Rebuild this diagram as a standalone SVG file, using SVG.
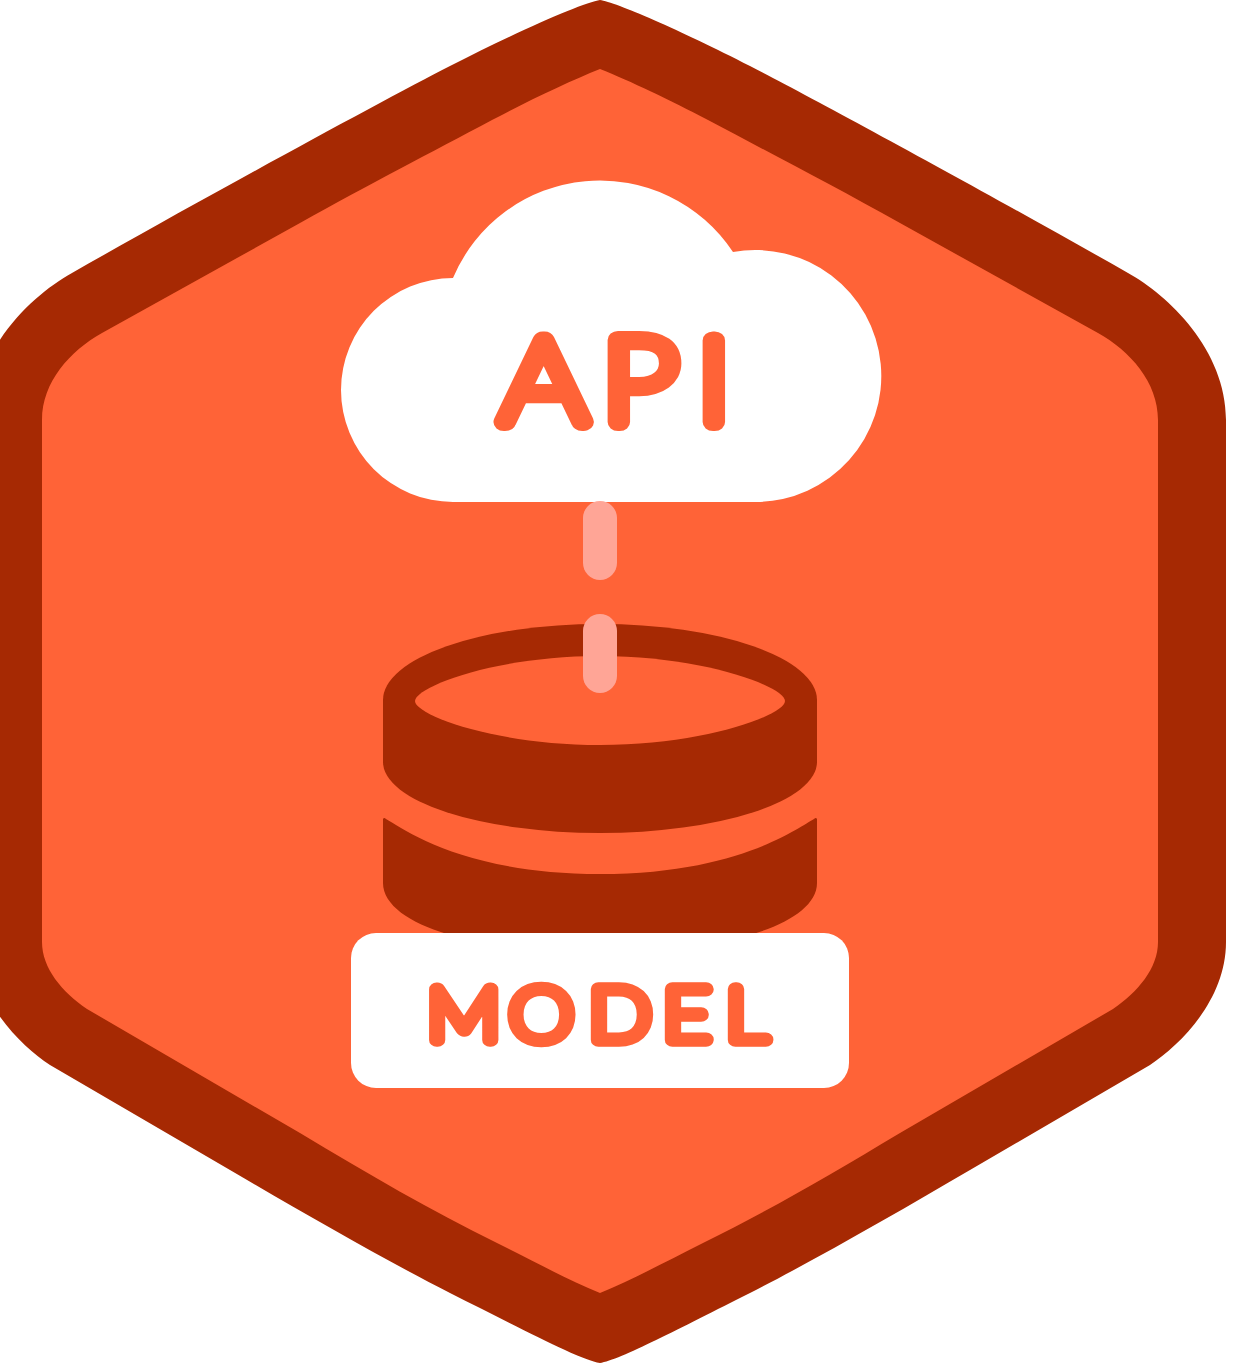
<svg xmlns="http://www.w3.org/2000/svg" width="1250" height="1363" viewBox="0 0 1250 1363">
<style>
.dark{fill:#a62903}
.orange{fill:#ff6337}
.white{fill:#fff}
.dash{fill:#ffa596}
text{font-family:"Lato","Inter","Liberation Sans",sans-serif;font-weight:100;fill:#ff6337;stroke:#ff6337;stroke-linejoin:round;vector-effect:non-scaling-stroke}
</style>
<rect width="1250" height="1363" fill="#fff"/>
<g id="badge">
<path class="dark" d="M600 0C615 2 680 30 750 66C820 102 1000 200 1128 273C1168 295 1226 350 1226 420L1226 942C1226 1000 1180 1045 1150 1065L970 1170C900 1211 815 1260 750 1293C680 1328 620 1360 600 1363C580 1360 520 1328 450 1293C385 1260 300 1211 230 1170L50 1065C20 1045 -26 1000 -26 942L-26 420C-26 350 32 295 72 273C200 200 380 102 450 66C520 30 585 2 600 0Z"/>
<path class="orange" d="M600 69C630 81 670 100 708 120C770 153 830 184 900 223L1098 333C1130 351 1158 382 1158 420L1158 942C1158 968 1138 992 1113 1009L900 1133C830 1175 770 1210 703 1243C665 1262 630 1281 600 1293C570 1281 535 1262 497 1243C430 1210 370 1175 300 1133L87 1009C62 992 42 968 42 942L42 420C42 382 70 351 102 333L300 223C370 184 430 153 492 120C530 100 570 81 600 69Z"/>
</g>
<g id="database">
<path class="dark" d="M383 700A217 76 0 0 1 817 700L817 762A217 71 0 0 1 383 762Z"/>
<path class="orange" d="M415 701C415 687 495 656 600 656C705 656 785 687 785 701C785 715 705 745 600 745C495 745 415 715 415 701Z"/>
<path class="dark" d="M383 819Q384 817 386 819C405 830 465 874 600 874C735 874 795 830 814 819Q816 817 817 819L817 883C817 905 790 923 753 934L447 934C410 923 383 905 383 883Z"/>
</g>
<g id="api">
<path class="white" d="M453 278A159.5 159.5 0 0 1 733 252A126 126 0 1 1 757 502L453 502A112 112 0 0 1 453 278Z"/>
<text font-size="116.5" stroke-width="19.5" y="422.5" x="435.6 524 606.5" transform="scale(1.15 1)">API</text>
</g>
<g id="model">
<rect class="white" x="351" y="933" width="498" height="155" rx="25"/>
<text font-size="72.5" stroke-width="14.5" y="1040" x="378 450.7 521.2 586.7 642.4" transform="scale(1.13 1)">MODEL</text>
</g>
<g id="connectors">
<rect class="dash" x="583" y="501" width="34" height="79" rx="17"/>
<rect class="dash" x="583" y="614" width="34" height="79" rx="17"/>
</g>
</svg>
